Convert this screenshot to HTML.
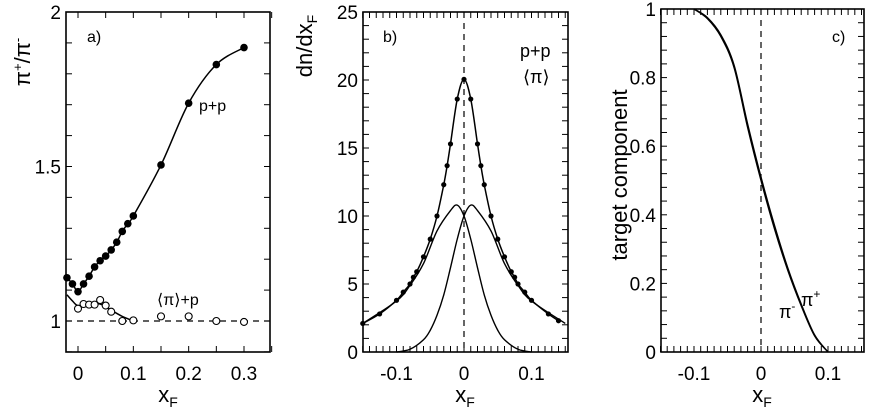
<!DOCTYPE html>
<html><head><meta charset="utf-8"><style>
body{margin:0;background:#fff}
svg{display:block;font-family:"Liberation Sans",sans-serif}
</style></head><body>
<svg id="s" width="872" height="414" viewBox="0 0 872 414"></svg>
<script>
// Panel a data
const aPPx=[-0.02,-0.01,0,0.01,0.02,0.03,0.04,0.05,0.06,0.07,0.08,0.09,0.1,0.15,0.2,0.25,0.3];
const aPPy=[1.14,1.12,1.095,1.12,1.145,1.175,1.195,1.21,1.23,1.255,1.29,1.315,1.34,1.505,1.705,1.83,1.885];
const aPiPx=[0,0.01,0.02,0.03,0.04,0.05,0.06,0.08,0.1,0.15,0.2,0.25,0.3];
const aPiPy=[1.04,1.055,1.053,1.053,1.068,1.05,1.03,1.0,1.002,1.015,1.015,1.0,0.997];
const aFitx=[-0.02,-0.01,0,0.02,0.04,0.06,0.08,0.1];
const aFity=[1.085,1.065,1.05,1.055,1.055,1.035,1.015,1.0];
const aXticks=[0,0.1,0.2,0.3];
const aYticks=[1,1.5,2];
// Panel b data
const bTotx=[-0.15,-0.125,-0.1,-0.09,-0.08,-0.075,-0.07,-0.06,-0.05,-0.04,-0.03,-0.025,-0.02,-0.01,0,0.01,0.02,0.025,0.03,0.04,0.05,0.06,0.07,0.075,0.08,0.09,0.1,0.125,0.14];
const bToty=[2.1,2.8,3.8,4.4,5.0,5.5,5.9,7.0,8.3,10.0,12.3,13.7,15.3,18.6,20.05,18.6,15.3,13.7,12.3,10.0,8.3,7.0,5.9,5.5,5.0,4.4,3.8,2.8,2.3];
const bTgtx=[-0.15,-0.1,-0.08,-0.06,-0.04,-0.02,-0.01,0,0.01,0.02,0.03,0.04,0.05,0.06,0.08,0.1];
const bTgty=[2.1,3.75,4.9,6.5,8.9,10.4,10.8,10.0,8.3,6.2,4.2,2.7,1.6,0.9,0.2,0];
const bProx=[-0.1,-0.08,-0.06,-0.05,-0.04,-0.03,-0.02,-0.01,0,0.01,0.02,0.04,0.06,0.08,0.1,0.15];
const bProy=[0,0.2,0.9,1.6,2.7,4.2,6.2,8.3,10.0,10.8,10.4,8.9,6.5,4.9,3.75,2.1];
const bXticks=[-0.1,0,0.1];
const bYticks=[0,5,10,15,20,25];
// Panel c data
const cXs=[-0.1,-0.08,-0.06,-0.04,-0.02,0,0.02,0.04,0.06,0.08,0.1];
const cPim=[1,0.975,0.925,0.835,0.665,0.51,0.37,0.245,0.14,0.05,0];
const cPip=[1,0.972,0.92,0.828,0.655,0.5,0.36,0.238,0.135,0.047,0];
const cXticks=[-0.1,0,0.1];
const cYticks=[0,0.2,0.4,0.6,0.8,1];

const NS="http://www.w3.org/2000/svg";
const svg=document.getElementById('s');
function mk(tag,attrs,parent,txt){const e=document.createElementNS(NS,tag);for(const k in attrs)e.setAttribute(k,attrs[k]);if(txt!==undefined)e.textContent=txt;(parent||svg).appendChild(e);return e;}
function lin(d0,d1,r0,r1){return v=>r0+(v-d0)*(r1-r0)/(d1-d0);}
function smooth(xs,ys,sx,sy){const p=xs.map((x,i)=>[sx(x),sy(ys[i])]);let d=`M${p[0][0]},${p[0][1]}`;
for(let i=0;i<p.length-1;i++){const p0=p[Math.max(0,i-1)],p1=p[i],p2=p[i+1],p3=p[Math.min(p.length-1,i+2)];
d+=` C${p1[0]+(p2[0]-p0[0])/6},${p1[1]+(p2[1]-p0[1])/6} ${p2[0]-(p3[0]-p1[0])/6},${p2[1]-(p3[1]-p1[1])/6} ${p2[0]},${p2[1]}`;}return d;}
function frame(g,L,R,T,B,sx,sy,xmin,xmax,xstep,ymin,ymax,ystep){
  const f=mk('rect',{x:L,y:T,width:R-L,height:B-T,fill:'none',stroke:'#000','stroke-width':1.6},g);
  
  for(let v=Math.ceil(xmin/xstep-1e-6)*xstep;v<=xmax+1e-9;v+=xstep){const x=sx(v);
    mk('line',{x1:x,x2:x,y1:B,y2:B-6,stroke:'#000'},g);mk('line',{x1:x,x2:x,y1:T,y2:T+6,stroke:'#000'},g);}
  for(let v=Math.ceil(ymin/ystep-1e-6)*ystep;v<=ymax+1e-9;v+=ystep){const y=sy(v);
    mk('line',{x1:L,x2:L+6,y1:y,y2:y,stroke:'#000'},g);mk('line',{x1:R,x2:R-6,y1:y,y2:y,stroke:'#000'},g);}
}
function labels(g,sx,sy,xt,yt,L,B,fmt){
  xt.forEach(v=>{const t=mk('text',{x:sx(v),y:B+28,'text-anchor':'middle','font-size':19},g,fmt(v));});
  yt.forEach(v=>{const t=mk('text',{x:L-5,y:sy(v)+7,'text-anchor':'end','font-size':19},g,String(v));});
}
function xtitle(g,cx){const t=mk('text',{x:cx,y:402,'text-anchor':'middle','font-size':22},g);
 mk('tspan',{},t,'x');mk('tspan',{dy:5,'font-size':14},t,'F');}
const fx=v=>v===0?'0':String(v);

// Panel a
{const g=mk('g',{});
const L=66,R=270,T=12,B=352;const sx=lin(0,0.3,78,244),sy=lin(1,2,321,12);
frame(g,L,R,T,B,sx,sy,-0.02,0.35,0.05,0.9,2,0.1);labels(g,sx,sy,aXticks,aYticks,L,B,fx);
const dl=mk('line',{x1:L,x2:R,y1:sy(1),y2:sy(1),stroke:'#000','stroke-dasharray':'6,5','stroke-width':1.2},g);
const c1=mk('path',{d:smooth(aPPx,aPPy,sx,sy),fill:'none',stroke:'#000','stroke-width':1.5},g);
const c2=mk('path',{d:smooth(aFitx,aFity,sx,sy),fill:'none',stroke:'#000','stroke-width':1.5},g);
aPPx.forEach((x,i)=>{const c=mk('circle',{cx:sx(x),cy:sy(aPPy[i]),r:3.8,fill:'#000'},g);});
aPiPx.forEach((x,i)=>{const c=mk('circle',{cx:sx(x),cy:sy(aPiPy[i]),r:3.5,fill:'#fff',stroke:'#000','stroke-width':1.1},g);});
let t=mk('text',{x:87,y:42,'font-size':16},g,'a)');
t=mk('text',{x:199,y:111,'font-size':16},g,'p+p');
t=mk('text',{x:157,y:305,'font-size':16},g,'⟨π⟩+p');
t=mk('text',{transform:'translate(30,62) rotate(-90)','text-anchor':'middle','font-size':22},g);
mk('tspan',{},t,'π');mk('tspan',{dy:-8,'font-size':13},t,'+');mk('tspan',{dy:8},t,'/π');mk('tspan',{dy:-8,'font-size':13},t,'-');
xtitle(g,168);}

// Panel b
{const g=mk('g',{});
const L=363,R=568,T=12,B=352;const sx=lin(0,0.1,464,531.5),sy=lin(0,25,352,12);
frame(g,L,R,T,B,sx,sy,-0.15,0.15,0.01,0,25,1);labels(g,sx,sy,bXticks,bYticks,L,B,fx);
const dl=mk('line',{x1:sx(0),x2:sx(0),y1:T,y2:B,stroke:'#000','stroke-dasharray':'6,5','stroke-width':1.2},g);
let p=mk('path',{d:smooth(bTotx,bToty,sx,sy),fill:'none',stroke:'#000','stroke-width':1.5},g);
p=mk('path',{d:smooth(bTgtx,bTgty,sx,sy),fill:'none',stroke:'#000','stroke-width':1.4},g);
p=mk('path',{d:smooth(bProx,bProy,sx,sy),fill:'none',stroke:'#000','stroke-width':1.4},g);
bTotx.forEach((x,i)=>{const c=mk('circle',{cx:sx(x),cy:sy(bToty[i]),r:2.6,fill:'#000'},g);});
let t=mk('text',{x:383,y:42,'font-size':16},g,'b)');
t=mk('text',{x:520,y:57,'font-size':18},g,'p+p');
t=mk('text',{x:523,y:83,'font-size':18},g,'⟨π⟩');
t=mk('text',{transform:'translate(312,46) rotate(-90)','text-anchor':'middle','font-size':22},g);
mk('tspan',{},t,'dn/dx');mk('tspan',{dy:5,'font-size':14},t,'F');
xtitle(g,465);}

// Panel c
{const g=mk('g',{});
const L=661,R=864,T=9,B=352;const sx=lin(0,0.1,761,828),sy=lin(0,1,352,9);
frame(g,L,R,T,B,sx,sy,-0.15,0.15,0.01,0,1,0.04);labels(g,sx,sy,cXticks,cYticks,L,B,fx);
const dl=mk('line',{x1:sx(0),x2:sx(0),y1:T,y2:B,stroke:'#000','stroke-dasharray':'6,5','stroke-width':1.2},g);
let p=mk('path',{d:smooth(cXs,cPim,sx,sy),fill:'none',stroke:'#000','stroke-width':1.4},g);
p=mk('path',{d:smooth(cXs,cPip,sx,sy),fill:'none',stroke:'#000','stroke-width':1.4},g);
let t=mk('text',{x:832,y:42,'font-size':16},g,'c)');
t=mk('text',{x:779,y:318,'font-size':18},g);
mk('tspan',{},t,'π');mk('tspan',{dy:-8,'font-size':12},t,'-');
t=mk('text',{x:801,y:306,'font-size':18},g);
mk('tspan',{},t,'π');mk('tspan',{dy:-8,'font-size':12},t,'+');
t=mk('text',{transform:'translate(627,175) rotate(-90)','text-anchor':'middle','font-size':22},g,'target component');
xtitle(g,762);}
</script>
</body></html>
